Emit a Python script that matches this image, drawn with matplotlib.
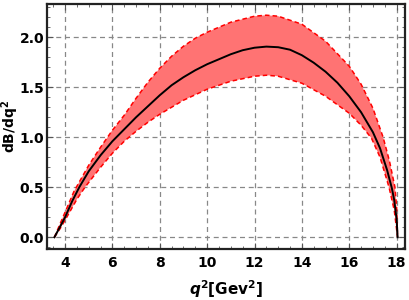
import numpy as np
import matplotlib
matplotlib.use("Agg")
import matplotlib.pyplot as plt
from matplotlib.ticker import MultipleLocator

# q^2 points (GeV^2) and values
q_center = [3.55, 3.8, 4.0, 4.3, 4.6, 5.0, 5.5, 6.0, 6.5, 7.0, 7.5, 8.0, 8.5, 9.0, 9.5, 10.0, 10.5, 11.0, 11.5,
            12.0, 12.5, 13.0, 13.5, 14.0, 14.5, 15.0, 15.5, 16.0, 16.5, 17.0, 17.3, 17.6, 17.8, 17.9, 18.0, 18.04]
v_center = [0.0, 0.11, 0.20, 0.36, 0.50, 0.66, 0.82, 0.96, 1.08, 1.20, 1.31, 1.42, 1.52, 1.60, 1.67, 1.73, 1.78, 1.83, 1.87,
            1.895, 1.906, 1.90, 1.875, 1.82, 1.745, 1.655, 1.545, 1.41, 1.25, 1.05, 0.89, 0.67, 0.49, 0.37, 0.18, 0.0]

q_upper = [3.55, 3.8, 4.0, 4.38, 5.0, 5.5, 6.0, 6.5, 7.0, 7.5, 8.0, 8.5, 9.0, 9.5, 10.0, 11.0, 12.0, 12.5, 13.0,
           14.0, 15.0, 16.0, 16.5, 17.0, 17.43, 17.7, 17.93, 18.0, 18.04]
v_upper = [0.0, 0.14, 0.25, 0.46, 0.72, 0.90, 1.07, 1.22, 1.39, 1.55, 1.69, 1.81, 1.91, 1.99, 2.05, 2.15, 2.21, 2.22, 2.21,
           2.13, 1.96, 1.71, 1.53, 1.29, 1.00, 0.76, 0.50, 0.30, 0.0]

q_lower = [3.55, 3.8, 4.0, 4.5, 4.84, 5.5, 6.0, 6.5, 7.0, 7.5, 8.0, 9.0, 10.0, 11.0, 12.0, 12.5, 13.0,
           14.0, 15.0, 16.0, 16.5, 16.94, 17.3, 17.68, 17.9, 18.04]
v_lower = [0.0, 0.09, 0.17, 0.38, 0.50, 0.70, 0.84, 0.96, 1.06, 1.15, 1.23, 1.37, 1.48, 1.56, 1.61, 1.62, 1.61,
           1.54, 1.41, 1.24, 1.12, 0.99, 0.80, 0.50, 0.27, 0.0]

x_ticks = [4, 6, 8, 10, 12, 14, 16, 18]
y_ticks = [0.0, 0.5, 1.0, 1.5, 2.0]

fig = plt.figure(figsize=(4.09, 3.0), dpi=100)
ax = fig.add_axes([0.115, 0.17, 0.875, 0.817])

# band: polygon from upper and lower curves
poly_x = list(q_upper) + list(q_lower[::-1])
poly_y = list(v_upper) + list(v_lower[::-1])
ax.fill(poly_x, poly_y, color="#ff7373", lw=0, zorder=2)
ax.plot(q_upper, v_upper, color="red", ls=(0, (3, 2)), lw=1.1, zorder=3)
ax.plot(q_lower, v_lower, color="red", ls=(0, (3, 2)), lw=1.1, zorder=3)
ax.plot(q_center, v_center, color="black", lw=1.4, zorder=4)

ax.set_xlim(3.24, 18.35)
ax.set_ylim(-0.117, 2.333)
ax.set_xticks(x_ticks)
ax.set_yticks(y_ticks)
ax.set_yticklabels([f"{v:.1f}" for v in y_ticks])
ax.xaxis.set_minor_locator(MultipleLocator(0.5))
ax.yaxis.set_minor_locator(MultipleLocator(0.1))
ax.tick_params(which="both", direction="in", top=True, right=True, color="#555555")
ax.tick_params(which="major", length=4, width=0.8, labelsize=10)
ax.tick_params(axis="x", which="major", pad=5)
ax.tick_params(axis="y", which="major", pad=2)
ax.tick_params(which="minor", length=2, width=0.6)
for lab in ax.get_xticklabels() + ax.get_yticklabels():
    lab.set_fontweight("bold")

ax.grid(True, which="major", color="#888888", ls=(0, (4, 3)), lw=0.9, zorder=1)
ax.set_axisbelow(True)
for s in ax.spines.values():
    s.set_linewidth(1.6)
    s.set_color("#222222")

ax.set_xlabel(r"$\mathbfit{q}^{\mathbf{2}}$[Gev$^{\mathbf{2}}$]", fontsize=11, fontweight="bold", labelpad=6)
ax.set_ylabel(r"dB/dq$^{\mathbf{2}}$", fontsize=10, fontweight="bold")
ax.yaxis.set_label_coords(-0.073, 0.5)

fig.savefig("out.png", dpi=100)
